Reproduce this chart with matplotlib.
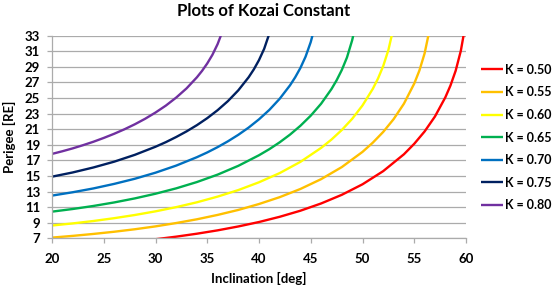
import matplotlib
matplotlib.use("Agg")
import matplotlib.pyplot as plt

# inclination [deg] / perigee [RE], one pair per curve
K_LABELS = ["K = 0.50", "K = 0.55", "K = 0.60", "K = 0.65", "K = 0.70", "K = 0.75", "K = 0.80"]
COLORS = ["#FF0000", "#FFC000", "#FFFF00", "#00B050", "#0070C0", "#002060", "#7030A0"]

inc_050 = [28, 30, 32, 34, 36, 38, 40, 42, 44, 46, 48, 50, 52, 54, 55, 56, 57, 58, 58.5, 59, 59.5, 59.76]
per_050 = [6.59, 6.88, 7.21, 7.59, 8.02, 8.52, 9.09, 9.76, 10.54, 11.47, 12.58, 13.93, 15.62, 17.78,
           19.13, 20.71, 22.63, 25.08, 26.61, 28.50, 31.06, 33.0]

inc_055 = [20, 22, 24, 26, 28, 30, 32, 34, 36, 38, 40, 42, 44, 46, 48, 50, 51, 52, 53, 54, 55, 55.5, 56, 56.36]
per_055 = [7.09, 7.31, 7.56, 7.84, 8.16, 8.53, 8.96, 9.44, 10.00, 10.64, 11.40, 12.28, 13.33, 14.59,
           16.14, 18.09, 19.28, 20.65, 22.28, 24.27, 26.86, 28.54, 30.73, 33.0]

inc_060 = [20, 22, 24, 26, 28, 30, 32, 34, 36, 38, 40, 42, 44, 46, 47, 48, 49, 50, 51, 51.5, 52, 52.5, 52.82]
per_060 = [8.64, 8.91, 9.22, 9.58, 9.99, 10.46, 11.00, 11.62, 12.35, 13.19, 14.19, 15.37, 16.81, 18.60,
           19.67, 20.90, 22.33, 24.05, 26.19, 27.51, 29.10, 31.16, 33.0]

inc_065 = [20, 22, 24, 26, 28, 30, 32, 34, 36, 38, 40, 41, 42, 43, 44, 45, 46, 47, 47.5, 48, 48.5, 49, 49.1]
per_065 = [10.42, 10.76, 11.15, 11.60, 12.12, 12.72, 13.41, 14.22, 15.17, 16.30, 17.66, 18.44, 19.32,
           20.31, 21.44, 22.74, 24.27, 26.15, 27.28, 28.60, 30.21, 32.41, 33.0]

inc_070 = [20, 22, 24, 26, 28, 30, 32, 34, 35, 36, 37, 38, 39, 40, 41, 42, 43, 43.5, 44, 44.5, 45, 45.16]
per_070 = [12.48, 12.91, 13.40, 13.98, 14.64, 15.42, 16.33, 17.41, 18.02, 18.70, 19.45, 20.28, 21.21,
           22.27, 23.48, 24.91, 26.64, 27.67, 28.86, 30.31, 32.19, 33.0]

inc_075 = [20, 22, 24, 26, 28, 30, 31, 32, 33, 34, 35, 36, 37, 38, 39, 39.5, 40, 40.5, 40.93]
per_075 = [14.91, 15.45, 16.09, 16.83, 17.71, 18.75, 19.34, 20.00, 20.72, 21.52, 22.42, 23.44, 24.61,
           25.99, 27.67, 28.68, 29.87, 31.32, 33.0]

inc_080 = [20, 21, 22, 23, 24, 25, 26, 27, 28, 29, 30, 31, 32, 33, 34, 34.5, 35, 35.5, 36, 36.31]
per_080 = [17.83, 18.17, 18.54, 18.95, 19.39, 19.88, 20.41, 20.99, 21.63, 22.34, 23.14, 24.03, 25.06,
           26.24, 27.66, 28.49, 29.44, 30.55, 31.92, 33.0]

X_TICKS = [20, 25, 30, 35, 40, 45, 50, 55, 60]
Y_TICKS = list(range(7, 34, 2))


def main():
    plt.rcParams['font.family'] = ['Lato', 'DejaVu Sans']
    fig = plt.figure(figsize=(5.54, 2.87), dpi=100)
    ax = fig.add_axes([52 / 554, 1 - 238.3 / 287, 414 / 554, 202.6 / 287])

    series = [(inc_050, per_050), (inc_055, per_055), (inc_060, per_060), (inc_065, per_065),
              (inc_070, per_070), (inc_075, per_075), (inc_080, per_080)]
    for (x, y), lab, col in zip(series, K_LABELS, COLORS):
        ax.plot(x, y, color=col, linewidth=1.7, label=lab, solid_capstyle='butt')

    ax.set_xlim(20, 60)
    ax.set_ylim(7, 33)
    ax.set_xticks(X_TICKS)
    ax.set_yticks(Y_TICKS)
    ax.yaxis.grid(True, color="#ABABAB", linewidth=0.9)
    ax.set_axisbelow(True)
    for side in ("top", "right"):
        ax.spines[side].set_visible(False)
    for side in ("left", "bottom"):
        ax.spines[side].set_color("#ABABAB")
        ax.spines[side].set_linewidth(0.9)
    ax.tick_params(axis='both', direction='out', length=3.5, width=0.9, color="#ABABAB",
                   labelsize=9.5, pad=3)
    for lbl in ax.get_xticklabels() + ax.get_yticklabels():
        lbl.set_fontweight('bold')
    ax.tick_params(axis='x', pad=7)
    ax.tick_params(axis='y', pad=5)

    ax.set_xlabel("Inclination [deg]", fontsize=9.5, fontweight='bold', labelpad=5)
    ax.set_ylabel("Perigee [RE]", fontsize=9.5, fontweight='bold', labelpad=6)
    fig.text(264 / 554, 1 - 11 / 287, "Plots of Kozai Constant", ha='center', va='center',
             fontsize=12, fontweight='bold')

    fig.legend(loc='center left', bbox_to_anchor=(481 / 554, 1 - 137.6 / 287), frameon=False,
               prop={'weight': 'bold', 'size': 9}, handlelength=1.75, handletextpad=0.15,
               labelspacing=0.85, borderpad=0, borderaxespad=0)

    fig.savefig("out.png", dpi=100)
    plt.close(fig)


if __name__ == "__main__":
    main()
